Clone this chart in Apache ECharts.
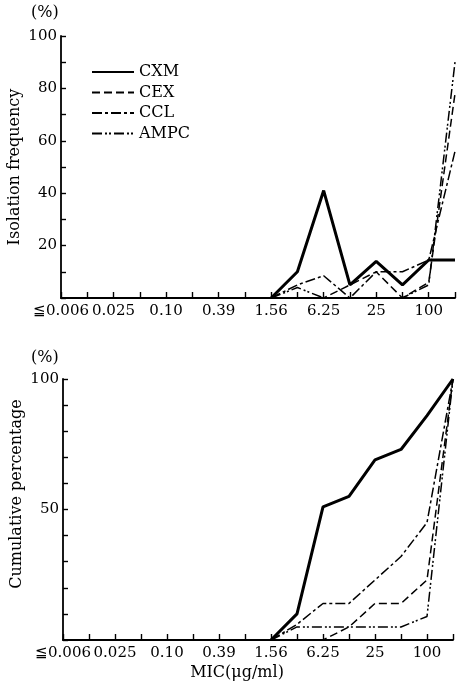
<!DOCTYPE html>
<html>
<head>
<meta charset="utf-8">
<script src="https://cdn.jsdelivr.net/npm/echarts@6/dist/echarts.min.js"></script>
<style>
html,body{margin:0;padding:0;background:#fff;}
#c{width:463px;height:690px;}
</style>
</head>
<body>
<div id="c"></div>
<script>
// MIC categories (μg/ml)
var categories = ['≦0.006','0.012','0.025','0.05','0.10','0.20','0.39','0.78','1.56','3.13','6.25','12.5','25','50','100','200'];
var seriesNames = ['CXM','CEX','CCL','AMPC'];

// Isolation frequency (%) – top panel
var freqCXM  = [null,null,null,null,null,null,null,null, 0, 10, 41, 5, 14, 5, 14.5, 14.5];
var freqCEX  = [null,null,null,null,null,null,null,null, 0, 0, 0, 5, 10, 0, 6, 78];
var freqCCL  = [null,null,null,null,null,null,null,null, 0, 5, 8.5, 0, 10, 10, 14.5, 56];
var freqAMPC = [null,null,null,null,null,null,null,null, 0, 4, 0, 0, 0, 0, 5, 90];

// Cumulative percentage (%) – bottom panel
var cumCXM  = [null,null,null,null,null,null,null,null, 0, 10, 51, 55, 69, 73, 86, 100];
var cumCEX  = [null,null,null,null,null,null,null,null, 0, 0, 0, 5, 14, 14, 23, 100];
var cumCCL  = [null,null,null,null,null,null,null,null, 0, 6, 14, 14, 23, 32, 45, 100];
var cumAMPC = [null,null,null,null,null,null,null,null, 0, 5, 5, 5, 5, 5, 9, 100];

var topYLabels = [20, 40, 60, 80, 100];
var bottomYLabels = [50, 100];

var FONT = 'DejaVu Serif';
var styles = {
  CXM:  {width: 3, type: 'solid'},
  CEX:  {width: 1.5, type: [8, 4]},
  CCL:  {width: 1.5, type: [10, 3, 3, 3]},
  AMPC: {width: 1.5, type: [10, 3, 2, 2, 2, 3]}
};

function mkSeries(name, data, idx) {
  return {
    name: name, type: 'line', xAxisIndex: idx, yAxisIndex: idx,
    data: data, symbol: 'none', symbolSize: 0, showSymbol: false, connectNulls: false, silent: true,
    lineStyle: {color: '#000', width: styles[name].width, type: styles[name].type},
    itemStyle: {color: '#000'}
  };
}

function mkX(gi) {
  return {
    type: 'category', gridIndex: gi, data: categories, boundaryGap: false,
    axisLine: {lineStyle: {color: '#000', width: 1.8}},
    axisTick: {show: true, inside: true, length: 6, interval: 0, lineStyle: {color: '#000', width: 1.4}},
    axisLabel: {interval: 1, showMinLabel: true, hideOverlap: false, color: '#000', fontFamily: FONT, fontSize: 15, margin: 6},
    splitLine: {show: false}
  };
}
function mkY(gi, labels) {
  return {
    type: 'value', gridIndex: gi, min: 0, max: 100, interval: 10,
    axisLine: {show: true, lineStyle: {color: '#000', width: 1.8}},
    axisTick: {show: true, inside: true, length: 5, lineStyle: {color: '#000', width: 1.4}},
    axisLabel: {color: '#000', fontFamily: FONT, fontSize: 15, margin: 4,
      formatter: function (v) { return labels.indexOf(v) >= 0 ? String(v) : ''; }},
    splitLine: {show: false}
  };
}

var chart = echarts.init(document.getElementById('c'), null, {renderer: 'canvas'});
chart.setOption({
  backgroundColor: '#fff',
  animation: false,
  grid: [
    {left: 61, top: 36, width: 394, height: 262},
    {left: 63, top: 379, width: 390, height: 261}
  ],
  xAxis: [mkX(0), mkX(1)],
  yAxis: [mkY(0, topYLabels), mkY(1, bottomYLabels)],
  legend: {
    data: seriesNames, orient: 'vertical', left: 86, top: 59,
    itemWidth: 42, itemHeight: 14, itemGap: 4.5,
    itemStyle: {opacity: 0},
    textStyle: {color: '#000', fontFamily: FONT, fontSize: 16},
    selectedMode: false
  },
  graphic: [
    {type: 'text', left: 31, top: 5, style: {text: '(%)', font: '16px "DejaVu Serif"', fill: '#000'}},
    {type: 'text', left: 31, top: 350, style: {text: '(%)', font: '16px "DejaVu Serif"', fill: '#000'}},
    {type: 'text', x: 15, y: 167, rotation: Math.PI / 2,
      style: {text: 'Isolation frequency', font: '16px "DejaVu Serif"', fill: '#000', align: 'center', verticalAlign: 'middle'}},
    {type: 'text', x: 17, y: 494, rotation: Math.PI / 2,
      style: {text: 'Cumulative percentage', font: '16px "DejaVu Serif"', fill: '#000', align: 'center', verticalAlign: 'middle'}},
    {type: 'text', x: 237, y: 673,
      style: {text: 'MIC(μg/ml)', font: '16px "DejaVu Serif"', fill: '#000', align: 'center', verticalAlign: 'middle'}}
  ],
  series: [
    mkSeries('CXM', freqCXM, 0), mkSeries('CEX', freqCEX, 0),
    mkSeries('CCL', freqCCL, 0), mkSeries('AMPC', freqAMPC, 0),
    mkSeries('CXM', cumCXM, 1), mkSeries('CEX', cumCEX, 1),
    mkSeries('CCL', cumCCL, 1), mkSeries('AMPC', cumAMPC, 1)
  ]
});
</script>
</body>
</html>
